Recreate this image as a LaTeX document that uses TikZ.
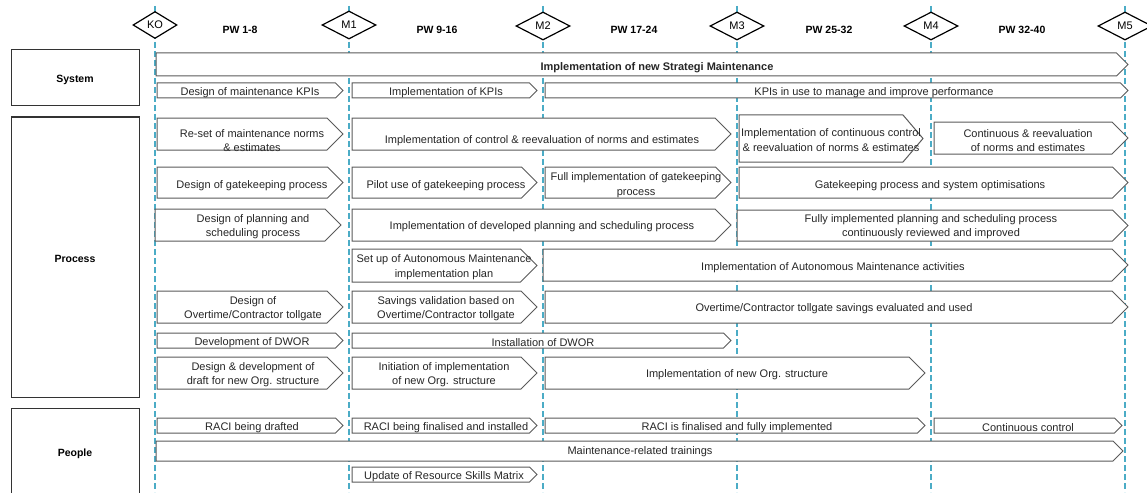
\documentclass[tikz,border=0pt]{standalone}
\usepackage{fontspec}
\setmainfont{Liberation Sans}
\usetikzlibrary{shapes.geometric}
\definecolor{msblue}{RGB}{75,172,198}
\definecolor{barline}{RGB}{90,90,90}
\definecolor{txt}{RGB}{38,38,38}
\tikzset{
  barshape/.style={draw=barline, line width=1pt, fill=white, line join=miter},
  bartext/.style={inner sep=0pt, align=center, text=txt, yshift=-1.8pt, font=\fontsize{11}{14.5}\selectfont},
  msline/.style={draw=msblue, line width=1.3pt, dash pattern=on 6pt off 3pt},
  msdia/.style={diamond, draw=black, line width=1.2pt, fill=white, inner sep=0pt,
    minimum width=54pt, minimum height=28pt, font=\fontsize{11}{13}\selectfont},
  pwlabel/.style={inner sep=0pt, yshift=-1pt, font=\fontsize{10.5}{12}\selectfont\bfseries},
  catbox/.style={draw=black!80, line width=1pt},
  catlabel/.style={inner sep=0pt, yshift=-2pt, font=\fontsize{10.5}{12}\selectfont\bfseries},
}
\newcommand\tbar[8]{%
  \pgfmathsetmacro\tipd{min((#5-#4)/2,20)}%
  \draw[barshape] (#2,#4) -- ({#3-\tipd},#4) -- (#3,{(#4+#5)/2}) -- ({#3-\tipd},#5) -- (#2,#5) -- cycle;
  \node[bartext] (#1) at (#6,#7) {#8};
}
\begin{document}
\begin{tikzpicture}[x=1pt,y=-1pt]
\useasboundingbox (0,0) rectangle (1147,492);
% milestone lines
\foreach \n/\x in {ko/155,m1/349,m2/543,m3/737,m4/931,m5/1125}{
  \coordinate (\n top) at (\x,6);
  \coordinate (\n bot) at (\x,492);
  \draw[msline] (\n top) -- (\n bot);
}
% milestone diamonds
\node[msdia, minimum width=44pt, minimum height=27pt] (KO) at (155,25) {KO};
\node[msdia] (M1) at (349,25) {M1};
\node[msdia] (M2) at (543,26) {M2};
\node[msdia] (M3) at (737,26) {M3};
\node[msdia] (M4) at (931,26) {M4};
\node[msdia] (M5) at (1125,26) {M5};
% phase labels
\node[pwlabel] (pw1) at (240,29) {PW 1-8};
\node[pwlabel] (pw2) at (437,29) {PW 9-16};
\node[pwlabel] (pw3) at (634,29) {PW 17-24};
\node[pwlabel] (pw4) at (829,29) {PW 25-32};
\node[pwlabel] (pw5) at (1022,29) {PW 32-40};
% category boxes
\draw[catbox] (11,50) rectangle (139,106);
\node[catlabel] (sys) at (75,78) {System};
\draw[catbox] (11,117) rectangle (139,397);
\node[catlabel] (proc) at (75,257) {Process};
\draw[catbox] (11,495) -- (11,408) -- (139,408) -- (139,495);
\node[catlabel] (peop) at (75,452) {People};
% System
\tbar{sysbar}{156}{1128}{53}{76}{657}{66}{\bfseries Implementation of new Strategi Maintenance}
\tbar{kpi1}{157}{343}{83}{98}{250}{90.5}{Design of maintenance KPIs}
\tbar{kpi2}{352}{537}{83}{98}{446}{90.5}{Implementation of KPIs}
\tbar{kpi3}{545}{1128}{83}{98}{874}{90.5}{KPIs in use to manage and improve performance}
% Process
\tbar{nrm1}{157}{343}{118}{150}{252}{139}{Re-set of maintenance norms\\\& estimates}
\tbar{nrm2}{352}{731}{118}{150}{542}{139}{Implementation of control \& reevaluation of norms and estimates}
\tbar{nrm3}{739}{923}{115}{162}{831}{138.5}{Implementation of continuous control\\\& reevaluation of norms \& estimates}
\tbar{nrm4}{934}{1128}{122}{154}{1028}{139}{Continuous \& reevaluation\\of norms and estimates}
\tbar{gk1}{157}{343}{167}{198}{252}{183.5}{Design of gatekeeping process}
\tbar{gk2}{352}{537}{167}{198}{446}{183.5}{Pilot use of gatekeeping process}
\tbar{gk3}{545}{731}{167}{198}{636}{183.5}{Full implementation of gatekeeping\\process}
\tbar{gk4}{739}{1128}{167}{198}{930}{183.5}{Gatekeeping process and system optimisations}
\tbar{pl1}{155}{341}{209}{241}{253}{225}{Design of planning and\\scheduling process}
\tbar{pl2}{352}{731}{209}{241}{542}{225}{Implementation of developed planning and scheduling process}
\tbar{pl3}{737}{1128}{210}{241}{931}{225}{Fully implemented planning and scheduling process\\continuously reviewed and improved}
\tbar{am1}{352}{537}{249}{282}{444}{265.5}{Set up of Autonomous Maintenance\\implementation plan}
\tbar{am2}{543}{1128}{249}{281}{833}{265.5}{Implementation of Autonomous Maintenance activities}
\tbar{ot1}{157}{343}{291}{323}{253}{307}{Design of\\Overtime/Contractor tollgate}
\tbar{ot2}{352}{537}{291}{323}{446}{307}{Savings validation based on\\Overtime/Contractor tollgate}
\tbar{ot3}{545}{1128}{291}{323}{834}{307}{Overtime/Contractor tollgate savings evaluated and used}
\tbar{dw1}{157}{343}{333}{348}{252}{340.5}{Development of DWOR}
\tbar{dw2}{352}{731}{333}{348}{543}{340.5}{Installation of DWOR}
\tbar{org1}{157}{343}{357}{389}{253}{373}{Design \& development of\\draft for new Org. structure}
\tbar{org2}{352}{537}{357}{389}{444}{373}{Initiation of implementation\\of new Org. structure}
\tbar{org3}{545}{925}{357}{389}{737}{373}{Implementation of new Org. structure}
% People
\tbar{raci1}{157}{343}{418}{433}{252}{425.5}{RACI being drafted}
\tbar{raci2}{352}{537}{418}{433}{446}{425.5}{RACI being finalised and installed}
\tbar{raci3}{545}{925}{418}{433}{737}{425.5}{RACI is finalised and fully implemented}
\tbar{raci4}{934}{1122}{418}{433}{1028}{425.5}{Continuous control}
\tbar{trn}{156}{1123}{441}{461}{640}{450}{Maintenance-related trainings}
\tbar{rsm}{352}{537}{467}{482}{444}{474.5}{Update of Resource Skills Matrix}
\end{tikzpicture}
\end{document}
